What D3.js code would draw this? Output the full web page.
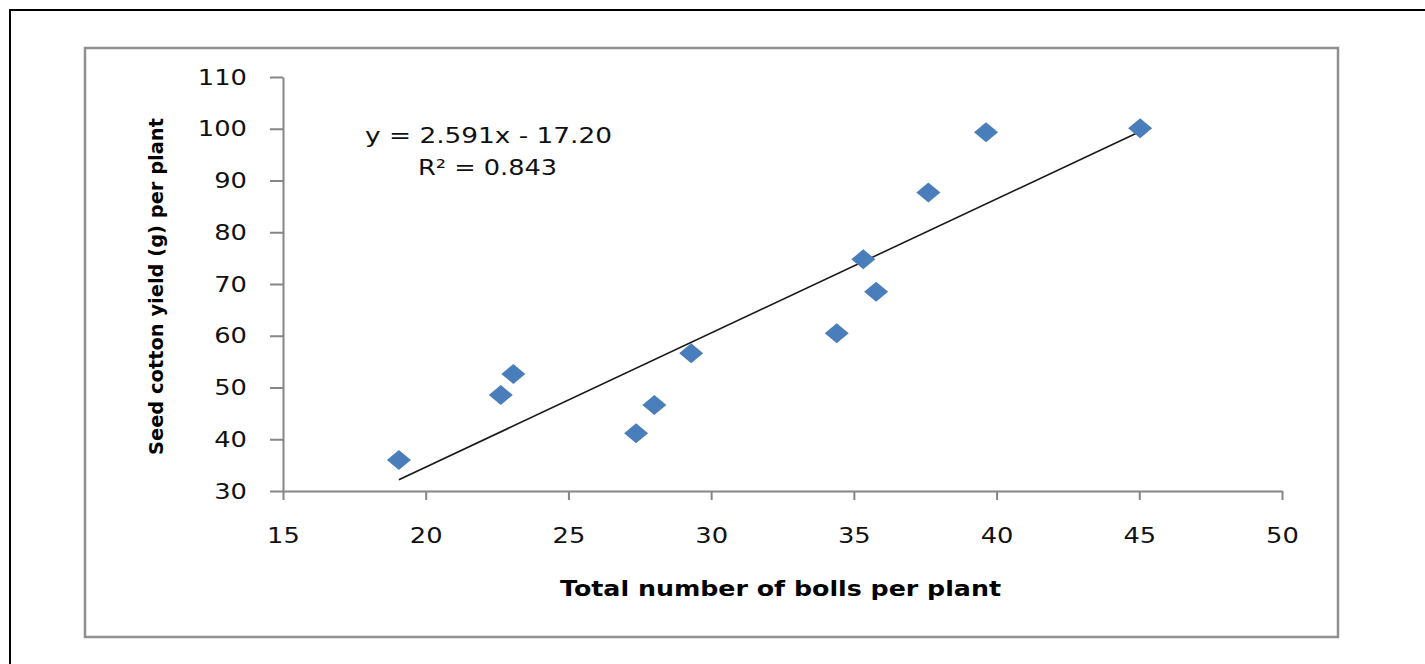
<!DOCTYPE html>
<html>
<head>
<meta charset="utf-8">
<script src="https://cdn.jsdelivr.net/npm/d3@7"></script>
<style>
  body { margin: 0; background: #fff; }
  svg { display: block; }
</style>
</head>
<body>
<svg id="chart" width="1425" height="664"></svg>
<script>
// bolls per plant vs seed cotton yield
const bolls = [19.06, 22.63, 23.07, 27.37, 28.01, 29.30, 34.40, 35.33, 35.78, 37.61, 39.63, 45.03];
const yieldG = [36.0, 48.55, 52.6, 41.15, 46.6, 56.6, 60.47, 74.77, 68.5, 87.7, 99.3, 100.1];
const xTicks = [15, 20, 25, 30, 35, 40, 45, 50];
const yTicks = [30, 40, 50, 60, 70, 80, 90, 100, 110];
const trendSlope = 2.591;
const trendIntercept = -17.20;
const eqLabel = 'y = 2.591x - 17.20';
const r2Label = 'R\u00B2 = 0.843';
const xTitle = 'Total number of bolls per plant';
const yTitle = 'Seed cotton yield (g) per plant';

const svg = d3.select('#chart');
const width = Number(svg.attr('width'));
const height = Number(svg.attr('height'));

const x = d3.scaleLinear().domain([15, 50]).range([283, 1282]);
const y = d3.scaleLinear().domain([30, 110]).range([491, 77]);

// outer frame (only top and left edges show)
svg.append('path')
	.attr('d', `M10,${height} L10,10 L${width},10`)
	.attr('fill', 'none')
	.attr('stroke', '#000')
	.attr('stroke-width', 2);

// chart area border
svg.append('rect')
	.attr('x', 85).attr('y', 48)
	.attr('width', 1253).attr('height', 589)
	.attr('fill', '#fff')
	.attr('stroke', '#8f8f8f')
	.attr('stroke-width', 2.5);

const tickFont = 'DejaVu Sans, Verdana, sans-serif';

const xAxis = svg.append('g')
	.attr('transform', `translate(0,${y(30)})`)
	.call(d3.axisBottom(x).tickValues(xTicks).tickSizeInner(9).tickSizeOuter(0).tickPadding(27));
const yAxis = svg.append('g')
	.attr('transform', `translate(${x(15)},0)`)
	.call(d3.axisLeft(y).tickValues(yTicks).tickSizeInner(13).tickSizeOuter(0).tickPadding(23));

[xAxis, yAxis].forEach(g => {
	g.select('.domain').attr('stroke', '#868686').attr('stroke-width', 2);
	g.selectAll('.tick line').attr('stroke', '#868686').attr('stroke-width', 2);
	g.selectAll('.tick text')
		.attr('fill', '#111')
		.style('font-family', tickFont)
		.style('font-size', '22px');
});

// stretch tick labels a little horizontally, like the source
xAxis.selectAll('.tick text').each(function() {
	const t = d3.select(this);
	const yy = t.attr('y');
	t.attr('x', 0).attr('y', 0)
		.attr('transform', `translate(0,${yy}) scale(1.17,1)`);
});
yAxis.selectAll('.tick text').each(function() {
	const t = d3.select(this);
	const xx = t.attr('x');
	t.attr('x', 0)
		.attr('transform', `translate(${xx},0) scale(1.17,1)`);
});

// trendline
const xMin = d3.min(bolls), xMax = d3.max(bolls);
svg.append('line')
	.attr('x1', x(xMin)).attr('y1', y(trendSlope * xMin + trendIntercept))
	.attr('x2', x(xMax)).attr('y2', y(trendSlope * xMax + trendIntercept))
	.attr('stroke', '#1a1a1a')
	.attr('stroke-width', 1.6);

// markers
const diamond = d3.symbol().type(d3.symbolSquare).size(200);
svg.append('g').selectAll('path')
	.data(bolls.map((b, i) => ({ b, v: yieldG[i] })))
	.enter().append('path')
		.attr('d', diamond)
		.attr('transform', d => `translate(${x(d.b)},${y(d.v)}) scale(1.2,1) rotate(45)`)
		.attr('fill', '#4a7ebb');

// equation
svg.append('text')
	.attr('x', 365).attr('y', 143)
	.attr('textLength', 247).attr('lengthAdjust', 'spacingAndGlyphs')
	.style('font-family', tickFont).style('font-size', '22px')
	.attr('fill', '#111')
	.text(eqLabel);
svg.append('text')
	.attr('x', 418).attr('y', 175)
	.attr('textLength', 139).attr('lengthAdjust', 'spacingAndGlyphs')
	.style('font-family', tickFont).style('font-size', '22px')
	.attr('fill', '#111')
	.text(r2Label);

// axis titles
svg.append('text')
	.attr('x', 560).attr('y', 596)
	.attr('textLength', 441).attr('lengthAdjust', 'spacingAndGlyphs')
	.style('font-family', tickFont).style('font-size', '21px').style('font-weight', 'bold')
	.attr('fill', '#000')
	.text(xTitle);
svg.append('text')
	.attr('transform', 'translate(163,455) rotate(-90)')
	.attr('textLength', 337).attr('lengthAdjust', 'spacingAndGlyphs')
	.style('font-family', tickFont).style('font-size', '20px').style('font-weight', 'bold')
	.attr('fill', '#000')
	.text(yTitle);
</script>
</body>
</html>
